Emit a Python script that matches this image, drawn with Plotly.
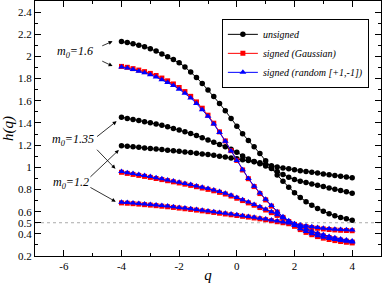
import plotly.graph_objects as go

q = [-4.0, -3.8, -3.6, -3.4, -3.2, -3.0, -2.8, -2.6, -2.4, -2.2, -2.0, -1.8, -1.6, -1.4,
     -1.2, -1.0, -0.8, -0.6, -0.4, -0.2, 0.0, 0.2, 0.4, 0.6, 0.8, 1.0, 1.2, 1.4, 1.6, 1.8,
     2.0, 2.2, 2.4, 2.6, 2.8, 3.0, 3.2, 3.4, 3.6, 3.8, 4.0]

# unsigned
u_16 = [2.135, 2.126, 2.115, 2.102, 2.088, 2.070, 2.048, 2.022, 1.998, 1.972, 1.943, 1.905,
        1.860, 1.810, 1.756, 1.698, 1.638, 1.576, 1.510, 1.440, 1.370, 1.302, 1.242, 1.185,
        1.124, 1.058, 0.993, 0.930, 0.874, 0.820, 0.770, 0.727, 0.690, 0.657, 0.628, 0.603,
        0.582, 0.563, 0.548, 0.535, 0.522]
u_135 = [1.452, 1.440, 1.431, 1.422, 1.411, 1.401, 1.391, 1.380, 1.366, 1.351, 1.336, 1.321,
         1.305, 1.287, 1.267, 1.246, 1.226, 1.205, 1.185, 1.163, 1.135, 1.102, 1.076, 1.053,
         1.033, 1.012, 0.989, 0.963, 0.936, 0.910, 0.890, 0.875, 0.862, 0.850, 0.838, 0.826,
         0.814, 0.803, 0.791, 0.779, 0.766]
u_12 = [1.195, 1.190, 1.185, 1.180, 1.175, 1.170, 1.166, 1.160, 1.154, 1.149, 1.144, 1.139,
        1.133, 1.127, 1.121, 1.115, 1.108, 1.100, 1.092, 1.085, 1.077, 1.069, 1.061, 1.051,
        1.040, 1.027, 1.014, 1.003, 0.994, 0.986, 0.978, 0.970, 0.963, 0.955, 0.948, 0.940,
        0.933, 0.926, 0.919, 0.912, 0.905]

# signed (Gaussian)
g_16 = [1.910, 1.902, 1.890, 1.877, 1.863, 1.847, 1.828, 1.805, 1.780, 1.752, 1.720, 1.683,
        1.640, 1.590, 1.533, 1.470, 1.398, 1.320, 1.238, 1.150, 1.062, 0.976, 0.897, 0.826,
        0.763, 0.706, 0.650, 0.596, 0.548, 0.505, 0.468, 0.438, 0.413, 0.392, 0.375, 0.361,
        0.349, 0.339, 0.331, 0.324, 0.318]
g_135 = [0.955, 0.945, 0.936, 0.927, 0.918, 0.909, 0.899, 0.889, 0.879, 0.869, 0.859, 0.848,
         0.837, 0.825, 0.813, 0.801, 0.788, 0.774, 0.759, 0.741, 0.721, 0.700, 0.679, 0.658,
         0.637, 0.615, 0.591, 0.566, 0.539, 0.511, 0.485, 0.459, 0.436, 0.415, 0.397, 0.381,
         0.367, 0.355, 0.344, 0.334, 0.326]
g_12 = [0.679, 0.676, 0.672, 0.668, 0.663, 0.659, 0.654, 0.649, 0.644, 0.638, 0.632, 0.626,
        0.620, 0.614, 0.607, 0.600, 0.593, 0.586, 0.579, 0.572, 0.565, 0.558, 0.551, 0.543,
        0.535, 0.527, 0.518, 0.509, 0.500, 0.491, 0.482, 0.473, 0.465, 0.457, 0.450, 0.444,
        0.439, 0.435, 0.432, 0.430, 0.428]

# signed (random [+1,-1])
r_16 = [1.904, 1.895, 1.882, 1.867, 1.852, 1.835, 1.814, 1.790, 1.765, 1.737, 1.705, 1.668,
        1.625, 1.575, 1.520, 1.460, 1.390, 1.315, 1.235, 1.148, 1.062, 0.978, 0.900, 0.830,
        0.768, 0.712, 0.655, 0.600, 0.553, 0.510, 0.474, 0.445, 0.420, 0.400, 0.383, 0.370,
        0.358, 0.348, 0.340, 0.333, 0.327]
r_135 = [0.962, 0.952, 0.943, 0.934, 0.925, 0.916, 0.906, 0.896, 0.886, 0.876, 0.866, 0.855,
         0.844, 0.832, 0.820, 0.808, 0.795, 0.781, 0.766, 0.748, 0.728, 0.707, 0.686, 0.665,
         0.644, 0.622, 0.598, 0.573, 0.546, 0.518, 0.492, 0.467, 0.444, 0.424, 0.406, 0.391,
         0.377, 0.365, 0.354, 0.344, 0.336]
r_12 = [0.685, 0.682, 0.678, 0.674, 0.669, 0.665, 0.660, 0.655, 0.650, 0.644, 0.638, 0.632,
        0.626, 0.620, 0.613, 0.606, 0.599, 0.592, 0.585, 0.578, 0.571, 0.564, 0.557, 0.549,
        0.541, 0.533, 0.524, 0.515, 0.506, 0.497, 0.488, 0.479, 0.471, 0.463, 0.456, 0.450,
        0.445, 0.441, 0.438, 0.436, 0.434]

y_ticks = [0.2, 0.4, 0.5, 0.6, 0.8, 1.0, 1.2, 1.4, 1.6, 1.8, 2.0, 2.2, 2.4]
y_tick_text = ["0.2", "0.4", "0.5", "0.6", "0.8", "1", "1.2", "1.4", "1.6", "1.8", "2", "2.2", "2.4"]
x_ticks = [-6, -4, -2, 0, 2, 4]
x_tick_text = ["-6", "-4", "-2", "0", "2", "4"]

SERIF = "Times New Roman, Liberation Serif, serif"

fig = go.Figure()

groups = [
    ("unsigned", "<i>unsigned</i>", "black", dict(symbol="circle", size=5.5, color="black"),
     [u_16, u_135, u_12]),
    ("gauss", "<i>signed (Gaussian)</i>", "red", dict(symbol="square", size=5, color="red"),
     [g_16, g_135, g_12]),
    ("random", "<i>signed (random [+1,-1])</i>", "blue",
     dict(symbol="triangle-up", size=6, color="blue"), [r_16, r_135, r_12]),
]

for gid, name, col, mk, series in groups:
    for i, ys in enumerate(series):
        fig.add_trace(go.Scatter(
            x=q, y=ys, mode="lines+markers", name=name, legendgroup=gid,
            showlegend=(i == 0), line=dict(color=col, width=1), marker=mk,
        ))

# dotted reference line at h = 0.5
fig.add_shape(type="line", xref="paper", x0=0, x1=1, yref="y", y0=0.5, y1=0.5,
              line=dict(color="#aaaaaa", width=1, dash="dot"), layer="below")

ann_font = dict(family=SERIF, size=12, color="black")
labels = [
    ("<i>m<sub>0</sub>=1.6</i>", -5.62, 2.04),
    ("<i>m<sub>0</sub>=1.35</i>", -5.67, 1.25),
    ("<i>m<sub>0</sub>=1.2</i>", -5.76, 0.86),
]
for txt, xx, yy in labels:
    fig.add_annotation(x=xx, y=yy, text=txt, showarrow=False, font=ann_font)

arrows = [
    (-4.72, 2.090, -4.31, 2.136),
    (-4.72, 1.964, -4.31, 1.913),
    (-4.90, 1.266, -4.17, 1.416),
    (-4.90, 1.172, -4.21, 0.986),
    (-5.13, 0.901, -4.09, 1.157),
    (-5.13, 0.826, -4.20, 0.690),
]
for x0, y0, x1, y1 in arrows:
    fig.add_annotation(x=x1, y=y1, ax=x0, ay=y0, xref="x", yref="y", axref="x", ayref="y",
                       text="", showarrow=True, arrowhead=2, arrowsize=1.0,
                       arrowwidth=0.8, arrowcolor="black")

axis_common = dict(
    showline=True, linecolor="black", linewidth=1, mirror="allticks",
    ticks="inside", ticklen=6, tickcolor="black", tickwidth=1,
    showgrid=False, zeroline=False, automargin=False,
    tickfont=dict(family=SERIF, size=11, color="black"),
)

fig.update_xaxes(
    range=[-7, 5], tickmode="array", tickvals=x_ticks, ticktext=x_tick_text,
    minor=dict(ticks="inside", ticklen=3, tickcolor="black", dtick=1, tick0=-7, showgrid=False),
    title=dict(text="<i>q</i>", font=dict(family=SERIF, size=15, color="black"), standoff=0),
    **axis_common,
)
fig.update_yaxes(
    range=[0.2, 2.5], tickmode="array", tickvals=y_ticks, ticktext=y_tick_text,
    minor=dict(ticks="inside", ticklen=3, tickcolor="black", dtick=0.1, tick0=0.2, showgrid=False),
    title=dict(text="<i>h(q)</i>", font=dict(family=SERIF, size=15, color="black"), standoff=0),
    **axis_common,
)

fig.update_layout(
    width=382, height=283,
    margin=dict(l=35, r=1, t=1, b=27, autoexpand=False),
    paper_bgcolor="white", plot_bgcolor="white",
    showlegend=True,
    legend=dict(
        x=0.965, y=0.93, xanchor="right", yanchor="top",
        bordercolor="black", borderwidth=1, bgcolor="white",
        font=dict(family=SERIF, size=10, color="black"),
        itemwidth=30, tracegroupgap=0,
    ),
)

fig.write_html("out.html", config={"displayModeBar": False},
               post_script="document.body.style.margin='0';")
